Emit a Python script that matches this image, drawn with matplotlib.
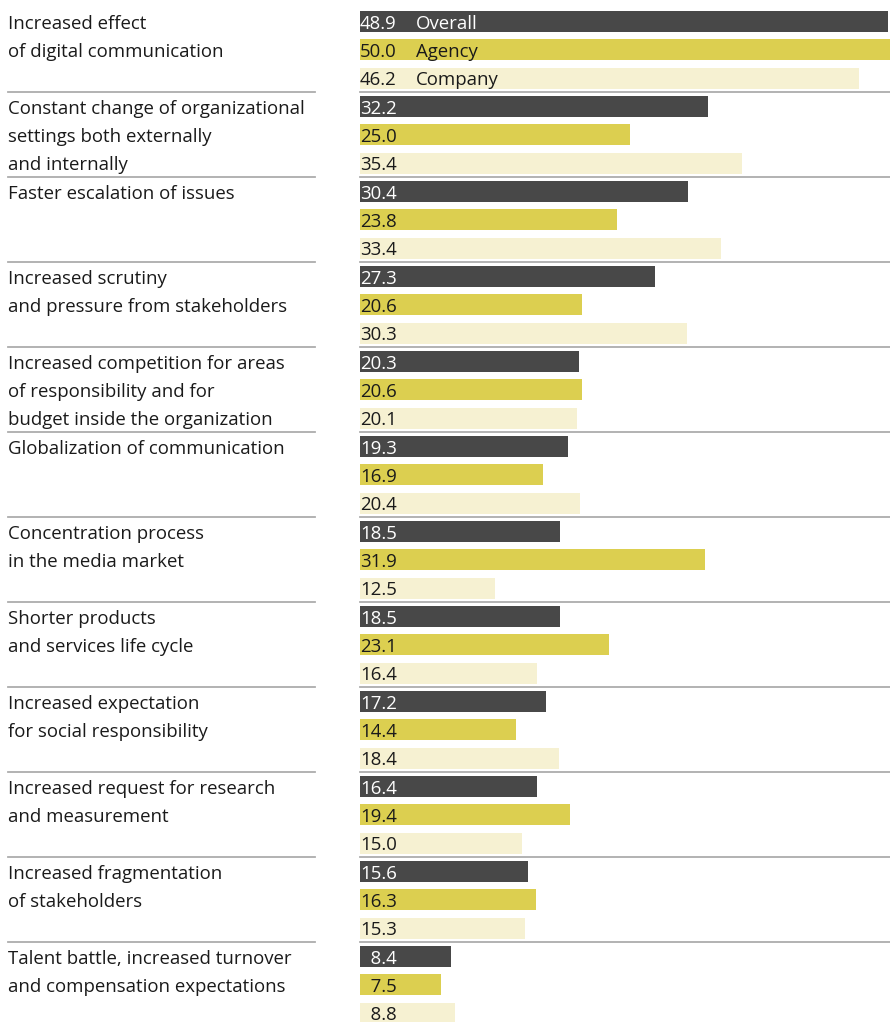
import numpy as np
import matplotlib
matplotlib.use("Agg")
import matplotlib.pyplot as plt
from matplotlib.transforms import blended_transform_factory

categories = [
    "Increased effect\nof digital communication",
    "Constant change of organizational\nsettings both externally\nand internally",
    "Faster escalation of issues",
    "Increased scrutiny\nand pressure from stakeholders",
    "Increased competition for areas\nof responsibility and for\nbudget inside the organization",
    "Globalization of communication",
    "Concentration process\nin the media market",
    "Shorter products\nand services life cycle",
    "Increased expectation\nfor social responsibility",
    "Increased request for research\nand measurement",
    "Increased fragmentation\nof stakeholders",
    "Talent battle, increased turnover\nand compensation expectations",
]
overall = [48.9, 32.2, 30.4, 27.3, 20.3, 19.3, 18.5, 18.5, 17.2, 16.4, 15.6, 8.4]
agency = [50.0, 25.0, 23.8, 20.6, 20.6, 16.9, 31.9, 23.1, 14.4, 19.4, 16.3, 7.5]
company = [46.2, 35.4, 33.4, 30.3, 20.1, 20.4, 12.5, 16.4, 18.4, 15.0, 15.3, 8.8]
series_names = ["Overall", "Agency", "Company"]

colors = ["#484848", "#dccf50", "#f6f1d2"]
text_colors = ["white", "#1a1a1a", "#1a1a1a"]

plt.rcParams["font.family"] = ["Open Sans", "DejaVu Sans"]
W, H = 890, 1022
fig = plt.figure(figsize=(W / 100, H / 100), dpi=100)
ax = fig.add_axes([360 / W, 0, 1 - 360 / W, 1])

pitch = 85 / 3
top_row = -21.5 / pitch
bottom_row = (H - 21.5) / pitch
ax.set_ylim(bottom_row, top_row)
ax.set_xlim(0, (W - 360) / 10.8)
ax.axis("off")

n = len(categories)
fs = 13.4
for s, vals in enumerate([overall, agency, company]):
    rows = np.arange(n) * 3 + s
    ax.barh(rows, vals, height=0.74, color=colors[s], linewidth=0)
    for r, v in zip(rows, vals):
        lab = f"{v:.1f}"
        if v < 10:
            lab = "\u2007" + lab
        ax.text(0, r, lab, va="center_baseline", ha="left", fontsize=fs,
                color=text_colors[s])
    # legend names inside the first group
    ax.annotate(series_names[s], (0, s), xytext=(40, 0), textcoords="offset points",
                va="center_baseline", ha="left", fontsize=fs, color=text_colors[s])

trans = blended_transform_factory(fig.transFigure, ax.transData)
for g, cat in enumerate(categories):
    for k, line in enumerate(cat.split("\n")):
        ax.text(8 / W, g * 3 + k, line, transform=trans, va="center_baseline",
                ha="left", fontsize=fs, color="#1a1a1a")
    if g > 0:
        y = g * 3 - 0.5
        ax.plot([8 / W, 315 / W], [y, y], transform=trans, color="#adadad",
                lw=1.3, clip_on=False)
        ax.plot([360 / W, 1.0], [y, y], transform=trans, color="#adadad",
                lw=1.3, clip_on=False)

fig.savefig("out.png", dpi=100)
